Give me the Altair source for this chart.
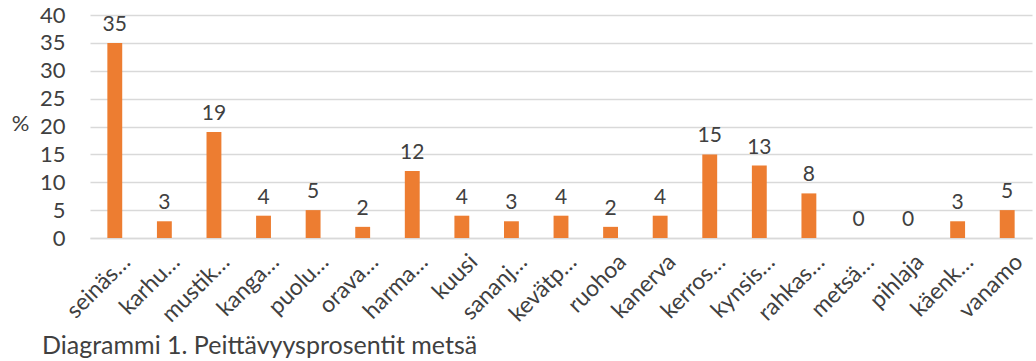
import altair as alt
import pandas as pd

categories = ["seinäs…", "karhu…", "mustik…", "kanga…", "puolu…", "orava…", "harma…",
              "kuusi", "sananj…", "kevätp…", "ruohoa", "kanerva", "kerros…", "kynsis…",
              "rahkas…", "metsä…", "pihlaja", "käenk…", "vanamo"]
values = [35, 3, 19, 4, 5, 2, 12, 4, 3, 4, 2, 4, 15, 13, 8, 0, 0, 3, 5]
y_ticks = [0, 5, 10, 15, 20, 25, 30, 35, 40]

df = pd.DataFrame({"cat": categories, "val": values})
FONT = "Lato"
TXT = "#404040"

x = alt.X("cat:N", sort=categories, title=None,
          scale=alt.Scale(paddingInner=0.7, paddingOuter=0.35),
          axis=alt.Axis(labelAngle=-45, labelAlign="right", labelBaseline="middle",
                        labelFont=FONT, labelFontSize=23, labelColor=TXT,
                        labelPadding=20, labelOffset=12, ticks=False, domain=True,
                        domainColor="#d9d9d9", domainWidth=1.5, grid=False))
y = alt.Y("val:Q", title="%",
          scale=alt.Scale(domain=[0, 40], nice=False),
          axis=alt.Axis(values=y_ticks, labelFont=FONT, labelFontSize=22, labelColor=TXT,
                        labelPadding=25, ticks=False, domain=False,
                        gridColor="#d9d9d9", gridWidth=1.5,
                        titleAngle=0, titleFont=FONT, titleFontSize=22,
                        titleFontWeight="normal", titleColor=TXT,
                        titleX=-70, titleY=108, titleAlign="center",
                        titleBaseline="middle"))

bars = alt.Chart(df).mark_bar(color="#ED7D31").encode(x=x, y=y)
labels = alt.Chart(df).mark_text(baseline="bottom", dy=-8, font=FONT, fontSize=21,
                                 color=TXT).encode(x=x, y=y, text="val:Q")

chart = (bars + labels).properties(
    width=942, height=223,
    autosize=alt.AutoSizeParams(type="none"),
    padding={"left": 90, "top": 15, "right": 4, "bottom": 123},
    title=alt.TitleParams("Diagrammi 1. Peittävyysprosentit metsä", orient="bottom",
                          anchor="start", frame="group", dx=-48, offset=8,
                          font=FONT, fontSize=25,
                          fontWeight="normal", color=TXT),
).configure_view(stroke=None)

chart.save("out.html", embed_options={"renderer": "svg", "actions": False})
